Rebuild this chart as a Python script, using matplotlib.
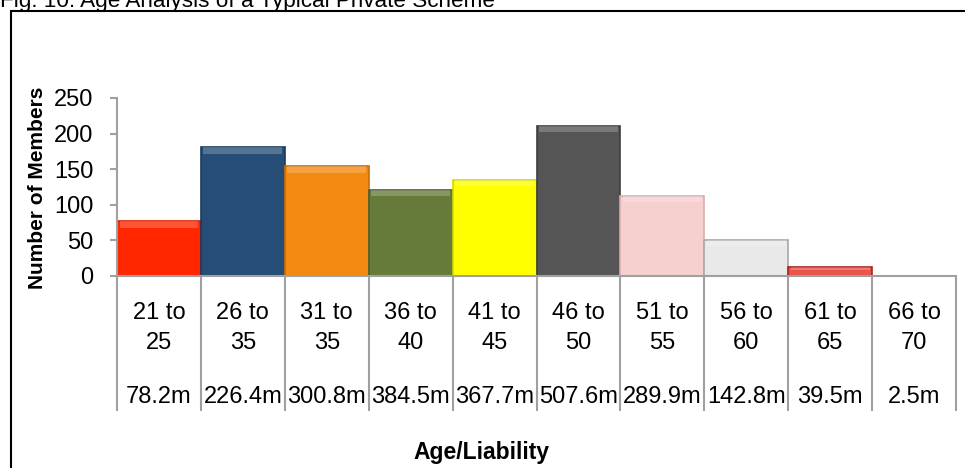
import numpy as np
import matplotlib
matplotlib.use("Agg")
import matplotlib.pyplot as plt
from matplotlib.patches import Rectangle
from matplotlib.transforms import blended_transform_factory

plt.rcParams['font.family'] = ['Liberation Sans', 'DejaVu Sans']

# data
age_bands = ["21 to\n25", "26 to\n35", "31 to\n35", "36 to\n40", "41 to\n45",
             "46 to\n50", "51 to\n55", "56 to\n60", "61 to\n65", "66 to\n70"]
liability = ["78.2m", "226.4m", "300.8m", "384.5m", "367.7m",
             "507.6m", "289.9m", "142.8m", "39.5m", "2.5m"]
members = [77, 181, 154, 121, 135, 211, 113, 51, 12, 0]

bar_colors = ["#FF2600", "#254D75", "#F4890F", "#667B39", "#FFFF00",
              "#555555", "#F6CFCF", "#E9E9E9", "#E9544C", "#FFFFFF"]
edge_colors = ["#D81E00", "#1C3C5C", "#C86E0A", "#4E5E2B", "#D8D800",
               "#3E3E3E", "#D9AFAF", "#A8A8A8", "#A82020", "#FFFFFF"]

grey = "#A0A0A0"

fig = plt.figure(figsize=(9.65, 4.68), dpi=100)
ax = fig.add_axes([117 / 965, 1 - 276 / 468, (956 - 117) / 965, (276 - 98) / 468])

x = np.arange(len(members))
ax.bar(x, members, width=1.0, color=bar_colors, edgecolor=edge_colors, linewidth=1.2, zorder=2)
# light bevel band along the top of each bar
band = [min(9, v * 0.35) for v in members]
ax.bar(x, band, bottom=np.array(members) - np.array(band), width=0.94,
       color="white", alpha=0.22, linewidth=0, zorder=3)

ax.set_xlim(-0.5, len(members) - 0.5)
ax.set_ylim(0, 250)
ax.set_yticks(range(0, 251, 50))
ax.tick_params(axis='y', direction='out', length=5, width=1.5, color=grey,
               labelsize=17, pad=12)

# category "table" below the axis
ax.set_xticks(np.arange(-0.5, len(members), 1.0))
ax.set_xticklabels([])
ax.tick_params(axis='x', direction='out', length=97, width=1.5, color=grey)

for s in ['top', 'right']:
    ax.spines[s].set_visible(False)
for s in ['left', 'bottom']:
    ax.spines[s].set_color(grey)
    ax.spines[s].set_linewidth(1.5)

trans = blended_transform_factory(ax.transData, fig.transFigure)
for i in range(len(members)):
    ax.text(x[i], 1 - 328 / 468, age_bands[i], transform=trans, ha='center', va='center',
            fontsize=17, linespacing=1.45)
    ax.text(x[i], 1 - 397 / 468, liability[i], transform=trans, ha='center', va='center',
            fontsize=17)

fig.text(481 / 965, 1 - 453 / 468, "Age/Liability", ha='center', va='center',
         fontsize=16.5, fontweight='bold')
fig.text(38 / 965, 1 - 188 / 468, "Number of Members", ha='center', va='center',
         rotation=90, fontsize=15, fontweight='bold')

fig.text(0.0, 1 - 7 / 468, "Fig. 10: Age Analysis of a Typical Private Scheme",
         ha='left', va='baseline', fontsize=16.2)

fig.patches.append(Rectangle((11 / 965, -0.1), 1.2, 1 - 10.7 / 468 + 0.1,
                             transform=fig.transFigure, fill=False,
                             edgecolor='black', linewidth=1.5))

fig.savefig("out.png", dpi=100)
